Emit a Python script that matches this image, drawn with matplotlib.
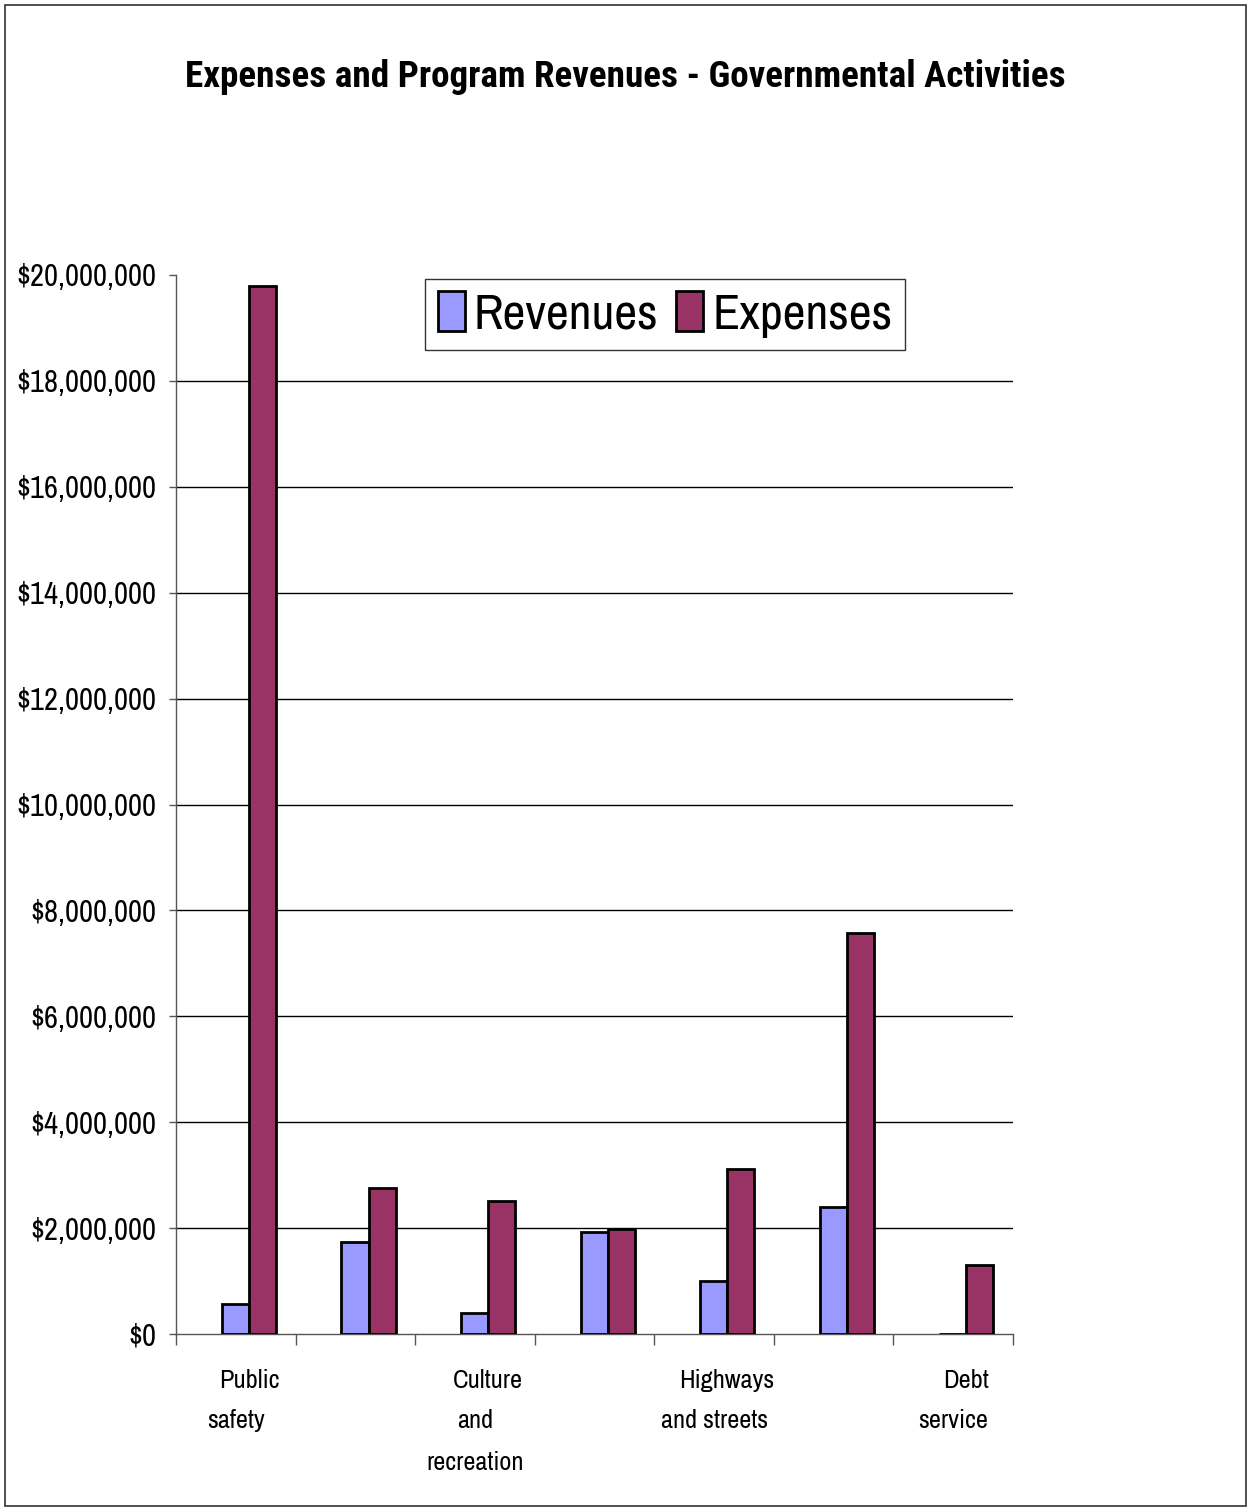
import numpy as np
import matplotlib.pyplot as plt
from matplotlib.patches import Rectangle
from matplotlib.ticker import FuncFormatter
import matplotlib.transforms as mtransforms

plt.rcParams['font.family'] = ['Archivo Narrow', 'DejaVu Sans']

# governmental activities, dollars
categories = ['Public\nsafety', '', 'Culture\nand\nrecreation', '',
              'Highways\nand streets', '', 'Debt\nservice']
revenues = [570000, 1740000, 390000, 1930000, 1010000, 2390000, 0]
expenses = [19790000, 2760000, 2510000, 1980000, 3120000, 7570000, 1310000]
yticks = np.arange(0, 20000001, 2000000)

fig = plt.figure(figsize=(12.51, 15.08), dpi=100)
ax = fig.add_axes([176/1251, 1 - 1334/1508, (1013 - 176)/1251, (1334 - 275)/1508])

x = np.arange(len(categories))
shift = 0.11          # bar pairs sit a little right of the category centre
w = 0.226
ax.bar(x + shift - w/2, revenues, w, color='#9999FF', edgecolor='black',
       linewidth=2, label='Revenues', zorder=3)
ax.bar(x + shift + w/2, expenses, w, color='#993366', edgecolor='black',
       linewidth=2, label='Expenses', zorder=3)

ax.set_xlim(-0.5, len(categories) - 0.5)
ax.set_ylim(0, 20000000)
ax.set_yticks(yticks)
ax.yaxis.set_major_formatter(FuncFormatter(lambda v, p: '${:,.0f}'.format(v)))
ax.tick_params(axis='y', labelsize=22, length=5, width=1, color='#555555', pad=9)
for v in yticks[1:-1]:
    ax.axhline(v, color='black', linewidth=1, zorder=1)

# category boundaries as ticks, names written line by line underneath
ax.set_xticks(np.arange(-0.5, len(categories), 1.0))
ax.set_xticklabels([])
ax.tick_params(axis='x', length=8, width=1, color='#555555')
trans = mtransforms.blended_transform_factory(ax.transData, fig.transFigure)
for i, name in enumerate(categories):
    if not name:
        continue
    for j, line in enumerate(name.split('\n')):
        xpos = i + shift if j == 0 else i
        fig.text(xpos, 1 - (1380 + 41*j)/1508, line, transform=trans, fontsize=19,
                 ha='center', va='center')

for side in ['top', 'right']:
    ax.spines[side].set_visible(False)
for side in ['left', 'bottom']:
    ax.spines[side].set_color('#555555')
    ax.spines[side].set_linewidth(1)

leg = ax.legend(loc='upper left', bbox_to_anchor=((425 - 176)/837, 1 - 4/1059),
                ncol=2, fontsize=36, frameon=True, fancybox=False,
                handlelength=0.54, handleheight=0.84, handletextpad=0.18,
                columnspacing=0.36, borderpad=0.25, borderaxespad=0)
leg.get_frame().set_edgecolor('black')
leg.get_frame().set_linewidth(1)

fig.text(0.5, 1 - 77/1508, 'Expenses and Program Revenues - Governmental Activities',
         ha='center', va='center', fontsize=26.7, fontweight='bold',
         family=['Roboto Condensed', 'DejaVu Sans'])

fig.patches.append(Rectangle((5/1251, 2/1508), 1241/1251, 1501/1508,
                             transform=fig.transFigure, fill=False,
                             edgecolor='#333333', linewidth=1.2))

fig.savefig('out.png', dpi=100)
